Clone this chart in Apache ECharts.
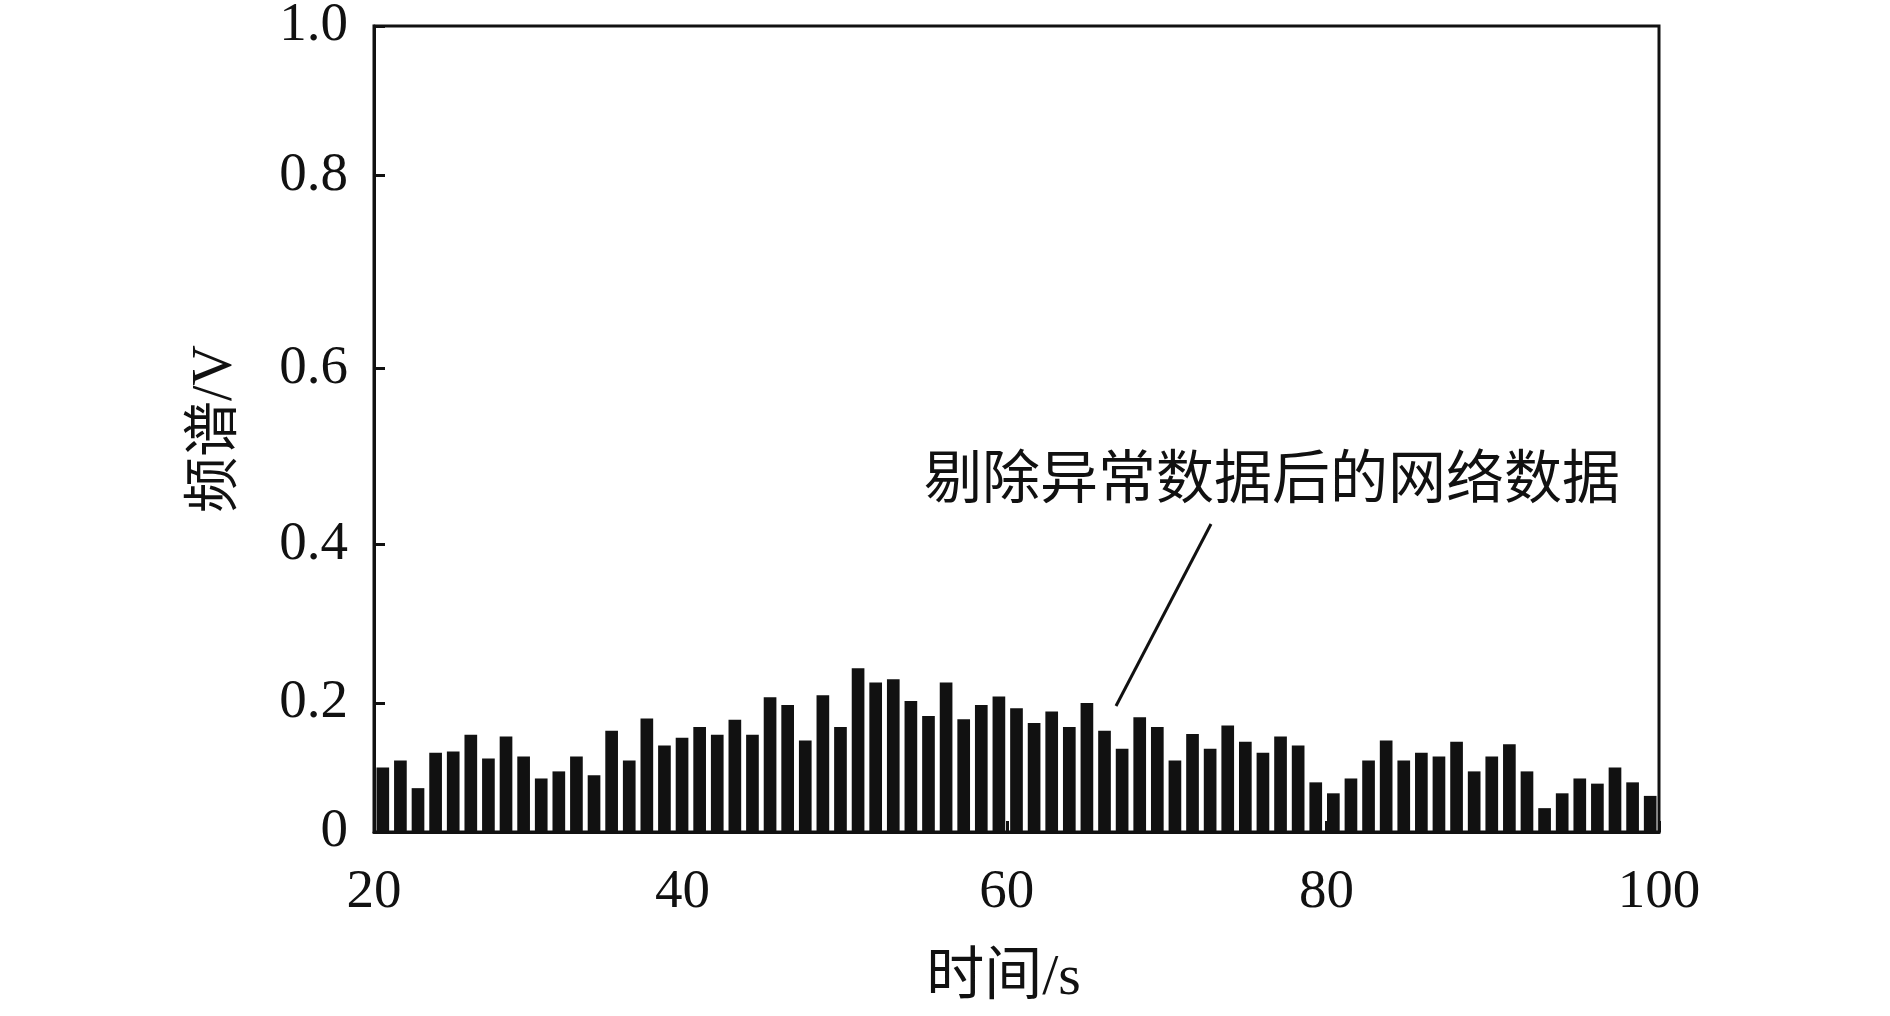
<!DOCTYPE html>
<html>
<head>
<meta charset="utf-8">
<script src="https://cdn.jsdelivr.net/npm/echarts@6/dist/echarts.min.js"></script>
<style>
  html, body { margin: 0; padding: 0; background: #fff; }
  #chart { width: 1890px; height: 1016px; }
</style>
</head>
<body>
<div id="chart"></div>
<script>
// bar centres (s)
const times = [
  '20.5', '21.6', '22.7', '23.8', '24.9', '26.0', '27.1', '28.2', '29.3', '30.4',
  '31.5', '32.6', '33.7', '34.8', '35.9', '37.0', '38.1', '39.2', '40.3', '41.4',
  '42.5', '43.6', '44.7', '45.8', '46.8', '47.9', '49.0', '50.1', '51.2', '52.3',
  '53.4', '54.5', '55.6', '56.7', '57.8', '58.9', '60.0', '61.1', '62.2', '63.3',
  '64.4', '65.5', '66.6', '67.7', '68.8', '69.9', '71.0', '72.1', '73.2', '74.2',
  '75.3', '76.4', '77.5', '78.6', '79.7', '80.8', '81.9', '83.0', '84.1', '85.2',
  '86.3', '87.4', '88.5', '89.6', '90.7', '91.8', '92.9', '94.0', '95.1', '96.2',
  '97.3', '98.4', '99.5'
];

// spectrum after removing abnormal data (V)
const spectrum = [
  0.100, 0.111, 0.068, 0.123, 0.125, 0.151, 0.114, 0.148, 0.117, 0.083,
  0.094, 0.117, 0.088, 0.157, 0.111, 0.176, 0.134, 0.146, 0.163, 0.151,
  0.174, 0.151, 0.209, 0.197, 0.142, 0.212, 0.163, 0.254, 0.232, 0.237,
  0.203, 0.180, 0.232, 0.175, 0.197, 0.210, 0.192, 0.169, 0.187, 0.163,
  0.200, 0.157, 0.129, 0.178, 0.163, 0.111, 0.152, 0.129, 0.165, 0.140,
  0.123, 0.148, 0.134, 0.077, 0.060, 0.083, 0.111, 0.142, 0.111, 0.123,
  0.117, 0.140, 0.094, 0.117, 0.136, 0.094, 0.037, 0.060, 0.083, 0.075,
  0.100, 0.077, 0.056
];

// the original axes are unevenly spaced: where each label sits on a linear scale
const yTickAt = [0, 0.2, 0.4465, 0.7194, 1.0186, 1.25];
const yTickLabels = ['0', '0.2', '0.4', '0.6', '0.8', '1.0'];
const xTickAt = [20, 39.2, 59.4, 79.3, 100];
const xTickLabels = ['20', '40', '60', '80', '100'];

const numFont = '"Liberation Serif", "DejaVu Serif", serif';
const cjkFont = '"Liberation Serif", "Noto Sans CJK SC", serif';
const ink = '#111';

function labelFor(ticks, labels) {
  return function (v) {
    let best = 0;
    ticks.forEach(function (t, i) {
      if (Math.abs(t - v) < Math.abs(ticks[best] - v)) best = i;
    });
    return labels[best];
  };
}

const chart = echarts.init(document.getElementById('chart'));

const option = {
  animation: false,
  backgroundColor: '#fff',
  grid: {
    left: 374,
    right: 231,
    top: 26,
    bottom: 184,
    show: true,
    borderColor: ink,
    borderWidth: 3,
    outerBoundsMode: 'none'
  },
  xAxis: [
    {
      type: 'category',
      data: times,
      boundaryGap: true,
      axisLine: { show: false },
      axisTick: { show: false },
      axisLabel: { show: false },
      splitLine: { show: false }
    },
    {
      type: 'value',
      min: 20,
      max: 100,
      position: 'bottom',
      name: '时间/s',
      nameLocation: 'middle',
      nameGap: 118,
      nameTextStyle: { fontFamily: cjkFont, fontSize: 58, color: ink, padding: [0, 26, 0, 0] },
      axisLine: { show: true, lineStyle: { color: ink, width: 3 } },
      axisTick: {
        show: true,
        inside: true,
        length: 11,
        customValues: xTickAt,
        lineStyle: { color: ink, width: 3 }
      },
      axisLabel: {
        fontFamily: numFont,
        fontSize: 55,
        color: ink,
        margin: 33,
        customValues: xTickAt,
        formatter: labelFor(xTickAt, xTickLabels)
      },
      splitLine: { show: false }
    }
  ],
  yAxis: {
    type: 'value',
    min: 0,
    max: 1.25,
    name: '频谱/V',
    nameLocation: 'middle',
    nameGap: 130,
    nameTextStyle: { fontFamily: cjkFont, fontSize: 56, color: ink },
    axisLine: { show: true, lineStyle: { color: ink, width: 3 } },
    axisTick: {
      show: true,
      inside: true,
      length: 11,
      customValues: yTickAt,
      lineStyle: { color: ink, width: 3 }
    },
    axisLabel: {
      fontFamily: numFont,
      fontSize: 55,
      color: ink,
      margin: 26,
      customValues: yTickAt,
      formatter: labelFor(yTickAt, yTickLabels)
    },
    splitLine: { show: false }
  },
  series: [
    {
      name: '剔除异常数据后的网络数据',
      type: 'bar',
      xAxisIndex: 0,
      data: spectrum,
      barCategoryGap: '28%',
      itemStyle: { color: ink }
    }
  ],
  graphic: [
    {
      type: 'text',
      style: {
        text: '剔除异常数据后的网络数据',
        x: 1272,
        y: 476,
        align: 'center',
        verticalAlign: 'middle',
        font: '58px "Noto Sans CJK SC"',
        fill: ink
      }
    },
    {
      type: 'line',
      shape: { x1: 1211, y1: 524, x2: 1116, y2: 706 },
      style: { stroke: ink, lineWidth: 3 }
    }
  ]
};

chart.setOption(option);
</script>
</body>
</html>
